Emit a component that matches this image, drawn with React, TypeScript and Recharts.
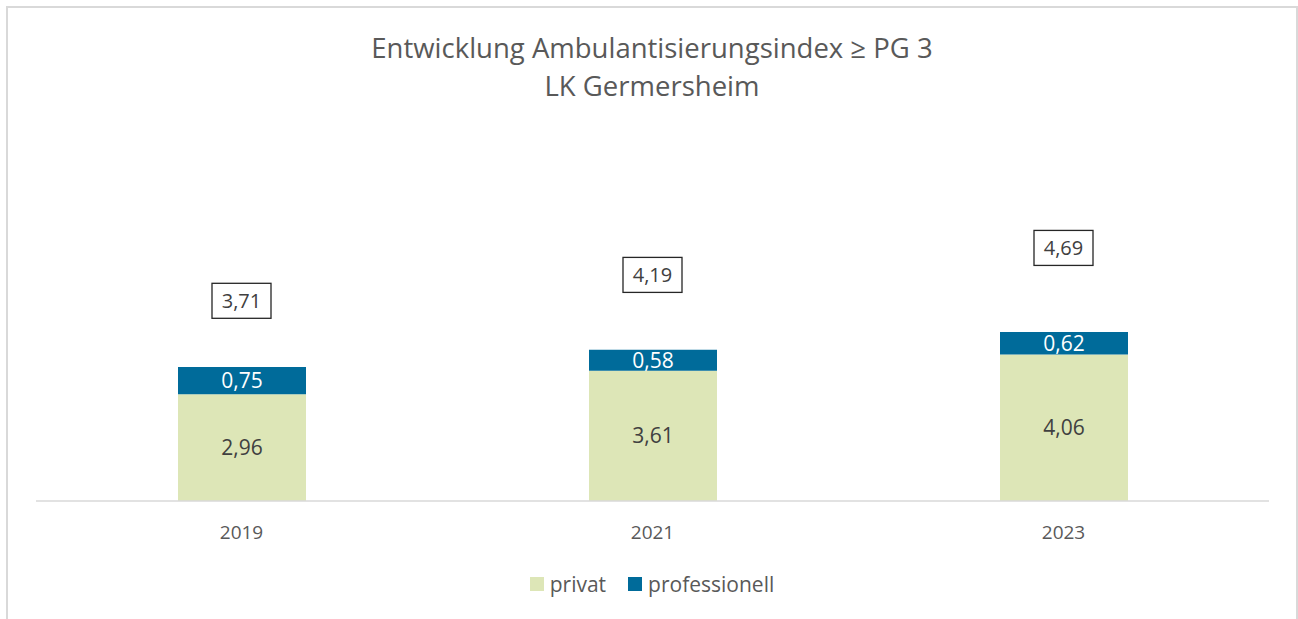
import { BarChart, Bar, Line, XAxis, YAxis, LabelList } from "recharts";

const years = ["2019", "2021", "2023"];
const privat = [2.96, 3.61, 4.06];
const professionell = [0.75, 0.58, 0.62];
const gesamt = [3.71, 4.19, 4.69];

const FONT = "'Open Sans', 'Noto Sans', sans-serif";
const GREEN = "#dde6b7";
const BLUE = "#006b9a";

const data = years.map((year, i) => ({
  year,
  privat: privat[i],
  professionell: professionell[i],
  gesamt: gesamt[i],
}));

// German decimal comma
const fmt = (v: unknown) => Number(v).toFixed(2).replace(".", ",");

function TotalBox(props: any) {
  const { x, y, value } = props;
  const w = 59;
  const h = 35;
  return (
    <g>
      <rect
        x={x - w / 2}
        y={y - h / 2}
        width={w}
        height={h}
        fill="#fff"
        stroke="#262626"
        strokeWidth={1.3}
      />
      <text
        x={x}
        y={y}
        textAnchor="middle"
        dominantBaseline="central"
        fontSize={20}
        fontFamily={FONT}
        fill="#404040"
      >
        {fmt(value)}
      </text>
    </g>
  );
}

export default function App() {
  return (
    <div
      style={{
        position: "absolute",
        left: 6,
        top: 6,
        width: 1292,
        height: 613,
        boxSizing: "border-box",
        border: "2px solid #d9d9d9",
        borderBottom: "none",
        background: "#fff",
        fontFamily: FONT,
      }}
    >
      <div
        style={{
          position: "absolute",
          left: 0,
          right: 0,
          top: 21,
          textAlign: "center",
          color: "#595959",
          fontSize: 27.5,
          lineHeight: "38px",
        }}
      >
        <div>Entwicklung Ambulantisierungsindex ≥ PG 3</div>
        <div>LK Germersheim</div>
      </div>
      <BarChart
        width={1288}
        height={611}
        data={data}
        margin={{ top: 132, right: 27, bottom: 78, left: 28 }}
      >
        <XAxis
          dataKey="year"
          height={40}
          tickLine={false}
          axisLine={{ stroke: "#d9d9d9", strokeWidth: 1.5 }}
          tick={{ fontSize: 19, fill: "#595959", fontFamily: FONT }}
          tickMargin={19}
        />
        <YAxis yAxisId="left" hide domain={[0, 10]} />
        <YAxis yAxisId="tot" hide domain={[0, 6.69]} />
        <Bar
          yAxisId="left"
          dataKey="privat"
          stackId="a"
          fill={GREEN}
          barSize={128}
          isAnimationActive={false}
        >
          <LabelList
            dataKey="privat"
            position="center"
            formatter={fmt}
            style={{ fontSize: 21, fill: "#404040", fontFamily: FONT }}
          />
        </Bar>
        <Bar
          yAxisId="left"
          dataKey="professionell"
          stackId="a"
          fill={BLUE}
          barSize={128}
          isAnimationActive={false}
        >
          <LabelList
            dataKey="professionell"
            position="center"
            formatter={fmt}
            style={{ fontSize: 21, fill: "#ffffff", fontFamily: FONT }}
          />
        </Bar>
        <Line
          yAxisId="tot"
          dataKey="gesamt"
          stroke="none"
          dot={false}
          activeDot={false}
          isAnimationActive={false}
        >
          <LabelList dataKey="gesamt" content={TotalBox} />
        </Line>
      </BarChart>
      <div
        style={{
          position: "absolute",
          left: 0,
          right: 0,
          top: 562,
          display: "flex",
          justifyContent: "center",
          alignItems: "center",
          color: "#595959",
          fontSize: 21,
          gap: 22,
        }}
      >
        <span style={{ display: "flex", alignItems: "center", gap: 6 }}>
          <span style={{ width: 14, height: 14, background: GREEN, display: "inline-block" }} />
          privat
        </span>
        <span style={{ display: "flex", alignItems: "center", gap: 6 }}>
          <span style={{ width: 14, height: 14, background: BLUE, display: "inline-block" }} />
          professionell
        </span>
      </div>
    </div>
  );
}
